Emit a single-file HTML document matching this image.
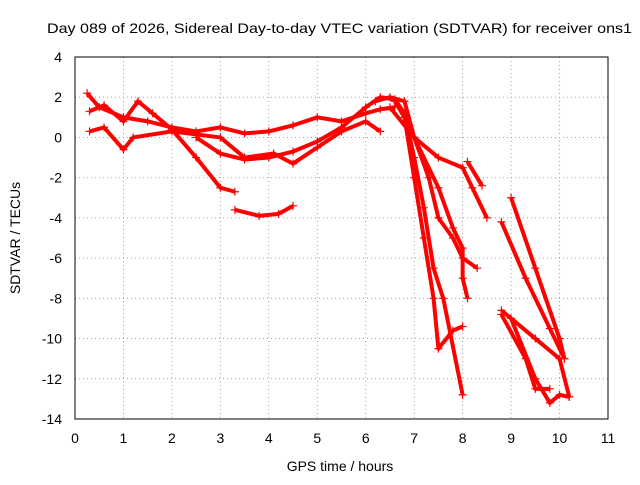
<!DOCTYPE html>
<html><head><meta charset="utf-8"><style>
body{margin:0;background:#fff}
svg text{font-family:"Liberation Sans",sans-serif;font-size:14px;fill:#000}
</style></head><body>
<svg id="chart" width="640" height="480">
<text x="47" y="33" textLength="585" lengthAdjust="spacingAndGlyphs">Day 089 of 2026, Sidereal Day-to-day VTEC variation (SDTVAR) for receiver ons1</text>
<text x="340" y="471" text-anchor="middle">GPS time / hours</text>
<text transform="translate(20,238) rotate(-90)" text-anchor="middle">SDTVAR / TECUs</text>
<g id="grid"></g><g id="ticks"></g><g id="series"></g>
<rect x="75" y="57" width="533" height="362" fill="none" stroke="#000"/>
</svg>
<script>
const xTicks=[0,1,2,3,4,5,6,7,8,9,10,11];
const yTicks=[4,2,0,-2,-4,-6,-8,-10,-12,-14];
const s1=[[0.25,2.2],[0.5,1.5],[1,1.0],[1.5,0.8],[2,0.5],[2.5,0.3],[3,0.5],[3.5,0.2],[4,0.3],[4.5,0.6],[5,1.0],[5.5,0.8],[6,1.2],[6.3,1.4],[6.6,1.5]];
const s2=[[6.6,1.8],[6.8,1],[7,-2],[7.2,-5],[7.4,-8],[7.5,-10.5],[7.8,-9.6],[8,-9.4]];
const s3=[[0.3,1.3],[0.6,1.6],[1,0.8],[1.3,1.8],[1.6,1.2],[2,0.4],[2.5,-1],[3,-2.5],[3.3,-2.7]];
const s4=[[3.3,-3.6],[3.8,-3.9],[4.2,-3.8],[4.5,-3.4]];
const s5=[[2.5,0],[3,-0.8],[3.5,-1.1],[4,-1],[4.5,-0.7],[5,-0.2],[5.5,0.5],[6,1.5],[6.3,2],[6.6,1.9],[6.8,1.2],[7,-1],[7.2,-3.5],[7.4,-6.5],[7.6,-8],[8,-12.8]];
const s6=[[0.3,0.3],[0.6,0.5],[1,-0.6],[1.2,0],[2,0.3],[3,0],[3.5,-1],[4.1,-0.8],[4.5,-1.3],[5,-0.5],[5.5,0.3],[6,0.8],[6.3,0.3]];
const s7=[[6.2,1.8],[6.5,2],[6.8,1.8],[7,0],[7.3,-2],[7.5,-4],[7.8,-5],[8,-6],[8.3,-6.5]];
const s8=[[6.5,1.5],[7,0],[7.5,-2.5],[7.8,-4.5],[8,-5.5],[8,-7],[8.1,-8]];
const s9=[[7,0],[7.5,-1],[8,-1.5],[8.2,-2.5],[8.5,-4]];
const s10=[[8.1,-1.2],[8.4,-2.4]];
const s11=[[9,-3],[9.5,-6.5],[10,-10],[10.1,-11]];
const s12=[[8.8,-4.2],[9.3,-7],[9.8,-9.5],[10.1,-11]];
const s13=[[8.8,-8.6],[9.5,-10],[10,-11],[10.2,-12.9]];
const s14=[[9,-9],[9.5,-12],[9.8,-13.2],[10,-12.8],[10.2,-12.9]];
const s15=[[8.8,-8.8],[9.3,-11],[9.5,-12.5],[9.8,-12.5]];
const allSeries=[s1,s2,s3,s4,s5,s6,s7,s8,s9,s10,s11,s12,s13,s14,s15];
const X=v=>75+v*533/11, Y=v=>57+(4-v)*362/18;
const NS="http://www.w3.org/2000/svg";
const grid=document.getElementById('grid'),tk=document.getElementById('ticks'),sg=document.getElementById('series');
function mk(tag,at,par){const e=document.createElementNS(NS,tag);for(const k in at)e.setAttribute(k,at[k]);par.appendChild(e);return e;}
xTicks.forEach(t=>{
 const g=mk('line',{x1:X(t),x2:X(t),y1:57,y2:419,stroke:'#a0a0a0','stroke-dasharray':'1,3'},grid);
 
 
 const l=mk('text',{x:X(t),y:443,'text-anchor':'middle'},tk);l.textContent=t;
 
 
});
yTicks.forEach(t=>{
 const g=mk('line',{x1:75,x2:608,y1:Y(t),y2:Y(t),stroke:'#a0a0a0','stroke-dasharray':'1,3'},grid);
 
 
 const l=mk('text',{x:62,y:Y(t)+5,'text-anchor':'end'},tk);l.textContent=t;
 
 
});
allSeries.forEach((s,i)=>{
 const p=mk('polyline',{points:s.map(d=>X(d[0])+','+Y(d[1])).join(' '),fill:'none',stroke:'#ff0000','stroke-width':4,'stroke-linejoin':'round'},sg);
 
 
 s.forEach(d=>{
  const m=mk('path',{d:`M${X(d[0])-4},${Y(d[1])}h8M${X(d[0])},${Y(d[1])-4}v8`,stroke:'#ff0000','stroke-width':1.2},sg);
  
  
 });
});
</script>
</body></html>
